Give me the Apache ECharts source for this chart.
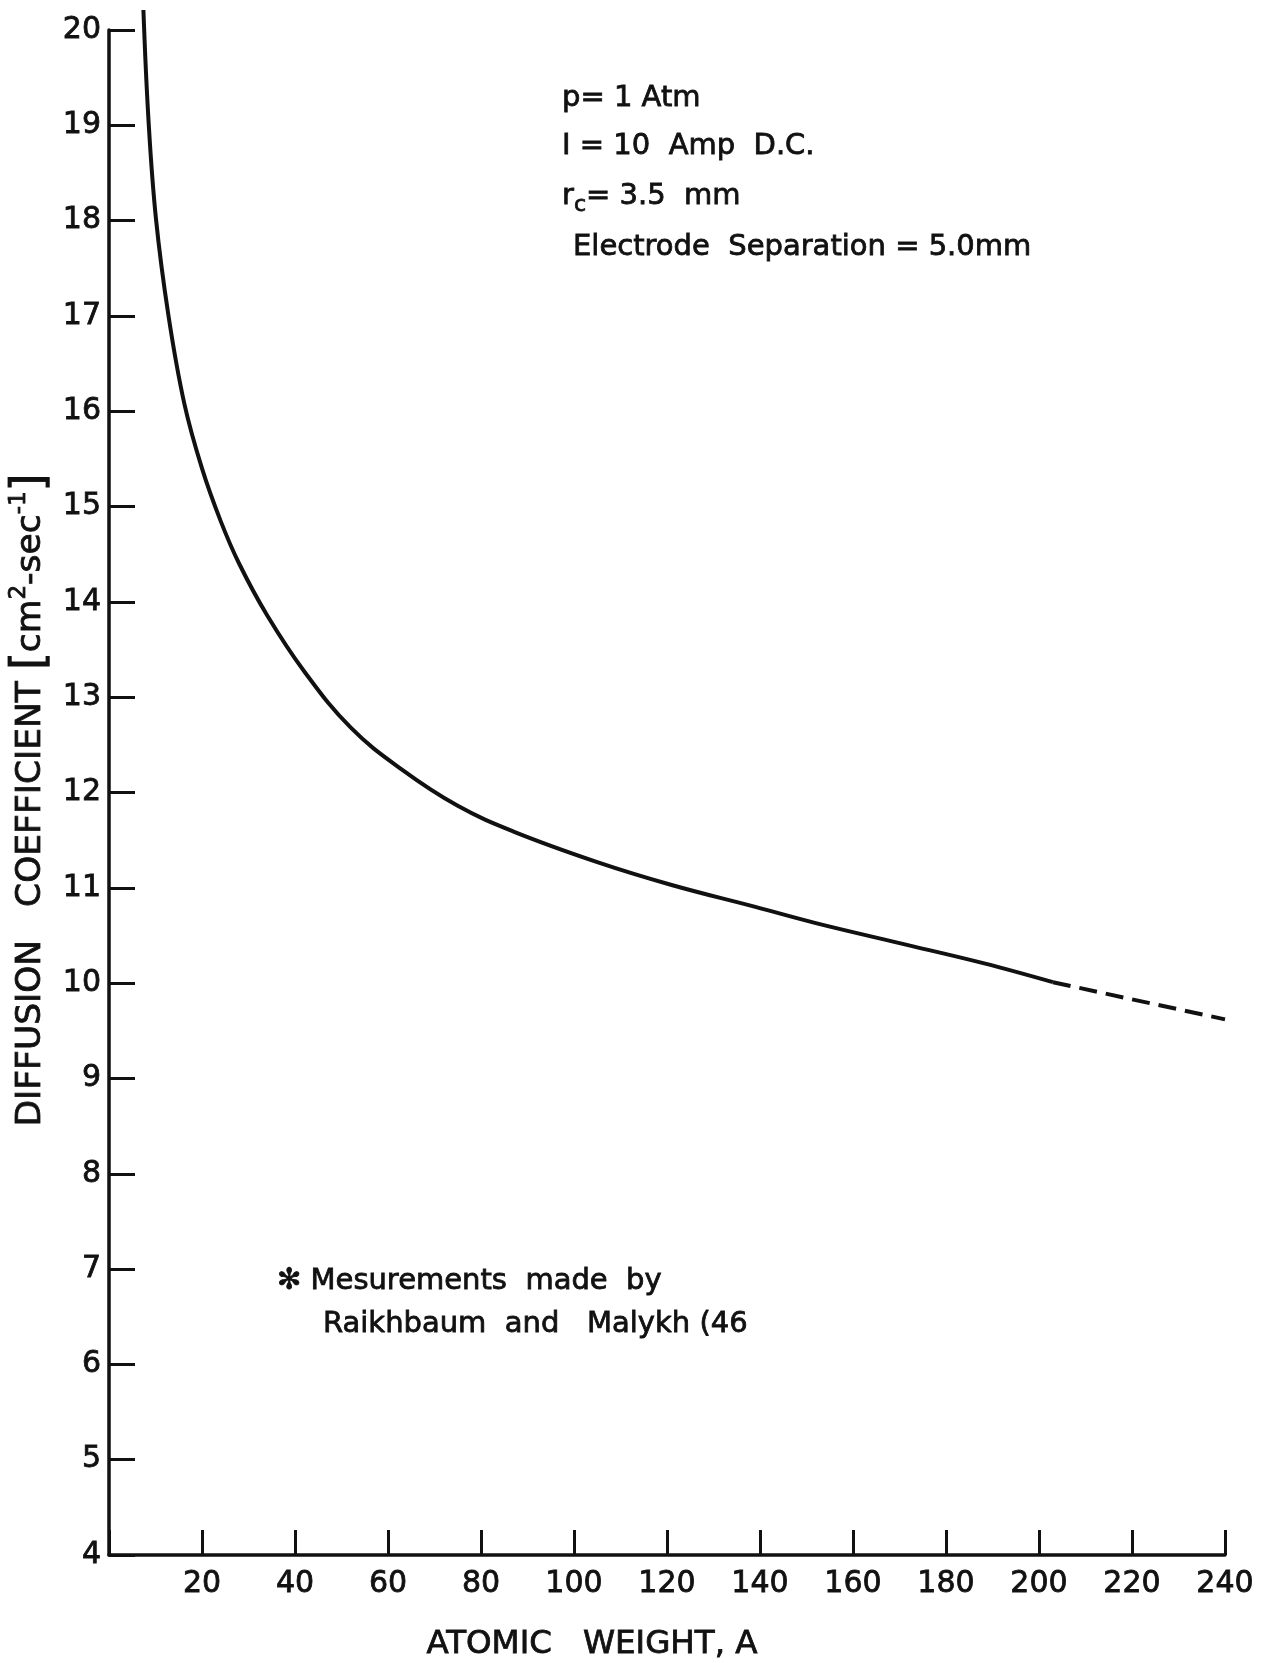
<!DOCTYPE html>
<html>
<head>
<meta charset="utf-8">
<title>Diffusion coefficient vs atomic weight</title>
<script src="https://cdn.jsdelivr.net/npm/echarts@6/dist/echarts.min.js"></script>
<style>
  html, body { margin: 0; padding: 0; background: #fff; }
  #chart { width: 1278px; height: 1663px; }
</style>
</head>
<body>
<div id="chart"></div>
<script>
// Measured curve: diffusion coefficient against atomic weight
const atomicWeight = [7.4, 8.5, 10.1, 12.8, 16.2, 20.0, 24.0, 28.0, 34.0, 42.0, 52.0, 63.0, 75.0, 87.0, 105.0, 121.0, 139.0, 152.0, 170.0, 188.0, 203.0];
const diffusion    = [20.21, 19.05, 18.02, 17.0, 16.08, 15.40, 14.85, 14.40, 13.86, 13.27, 12.68, 12.24, 11.86, 11.59, 11.27, 11.03, 10.80, 10.63, 10.42, 10.21, 10.01];

// Extrapolated tail (dashed)
const extrapWeight    = [203.0, 220.0, 240.0];
const extrapDiffusion = [10.01, 9.83, 9.62];

// Axis ticks
const xTickLabels = ['20', '40', '60', '80', '100', '120', '140', '160', '180', '200', '220', '240'];
const yTickLabels = ['4', '5', '6', '7', '8', '9', '10', '11', '12', '13', '14', '15', '16', '17', '18', '19', '20'];

// Annotation text
const conditionLines = ['p= 1 Atm', 'I = 10  Amp  D.C.'];
const noteLines = ['\u273B Mesurements  made  by', 'Raikhbaum  and   Malykh (46'];

const FONT = "'DejaVu Sans', sans-serif";
const INK = '#111';
const PEN = 0.8; // extra stroke so the lettering reads as heavy as pen lettering

const chart = echarts.init(document.getElementById('chart'), null, { renderer: 'canvas' });

const pairs = (xs, ys) => xs.map((x, i) => [x, ys[i]]);

const plain = (text, x, y, size, align) => ({
  type: 'text', x, y,
  style: {
    text, fontSize: size, fontFamily: FONT, fill: INK, stroke: INK, lineWidth: PEN,
    align: align || 'left', verticalAlign: 'middle'
  }
});

chart.setOption({
  animation: false,
  backgroundColor: '#fff',
  grid: { left: 109, right: 53, top: 30, bottom: 108, containLabel: false, outerBoundsMode: 'none' },
  xAxis: {
    type: 'value', min: 0, max: 240, interval: 20,
    axisLine: { show: true, onZero: false, lineStyle: { color: INK, width: 3.5 } },
    axisTick: { show: true, inside: true, length: 25, lineStyle: { color: INK, width: 3 } },
    axisLabel: {
      color: INK, fontSize: 30, fontFamily: FONT, margin: 14,
      textBorderColor: INK, textBorderWidth: PEN,
      formatter: v => (xTickLabels.includes(String(v)) ? String(v) : '')
    },
    splitLine: { show: false }
  },
  yAxis: {
    type: 'value', min: 4, max: 20, interval: 1,
    axisLine: { show: true, onZero: false, lineStyle: { color: INK, width: 3.5 } },
    axisTick: { show: true, inside: true, length: 26, lineStyle: { color: INK, width: 3 } },
    axisLabel: {
      color: INK, fontSize: 30, fontFamily: FONT, margin: 8,
      textBorderColor: INK, textBorderWidth: PEN,
      formatter: v => (yTickLabels.includes(String(v)) ? String(v) : '')
    },
    splitLine: { show: false }
  },
  series: [
    {
      type: 'line', data: pairs(atomicWeight, diffusion),
      showSymbol: false, smooth: 0.4, clip: false,
      lineStyle: { color: INK, width: 4 }
    },
    {
      type: 'line', data: pairs(extrapWeight, extrapDiffusion),
      showSymbol: false, clip: false,
      lineStyle: { color: INK, width: 4, type: [18, 9] }
    }
  ],
  graphic: [
    // run conditions
    plain(conditionLines[0], 562, 98, 29),
    plain(conditionLines[1], 562, 146, 29),
    {
      type: 'text', x: 562, y: 196,
      style: {
        text: '{a|r}{c|c}{a|= 3.5  mm}', align: 'left', verticalAlign: 'middle',
        rich: {
          a: { fontSize: 29, fontFamily: FONT, fill: INK, stroke: INK, lineWidth: PEN, lineHeight: 40 },
          c: { fontSize: 22, fontFamily: FONT, fill: INK, stroke: INK, lineWidth: PEN, lineHeight: 22, verticalAlign: 'bottom' }
        }
      }
    },
    plain('Electrode  Separation = 5.0mm', 573, 247, 29),

    // footnote
    plain(noteLines[0], 277, 1281, 29),
    plain(noteLines[1], 323, 1324, 29),

    // axis titles
    plain('ATOMIC   WEIGHT, A', 592, 1645, 32.5, 'center'),
    {
      type: 'text', x: 31, y: 800, rotation: Math.PI / 2,
      style: {
        text: '{a|DIFFUSION   COEFFICIENT }{b|[}{a|cm}{s|2}{a|-sec}{s|-1}{b|]}',
        align: 'center', verticalAlign: 'middle',
        rich: {
          a: { fontSize: 34.5, fontFamily: FONT, fill: INK, stroke: INK, lineWidth: PEN, lineHeight: 46 },
          s: { fontSize: 23, fontFamily: FONT, fill: INK, stroke: INK, lineWidth: PEN, lineHeight: 24, verticalAlign: 'top' },
          b: { fontSize: 46, fontFamily: FONT, fill: INK, stroke: INK, lineWidth: PEN, lineHeight: 46 }
        }
      }
    }
  ]
});
</script>
</body>
</html>
